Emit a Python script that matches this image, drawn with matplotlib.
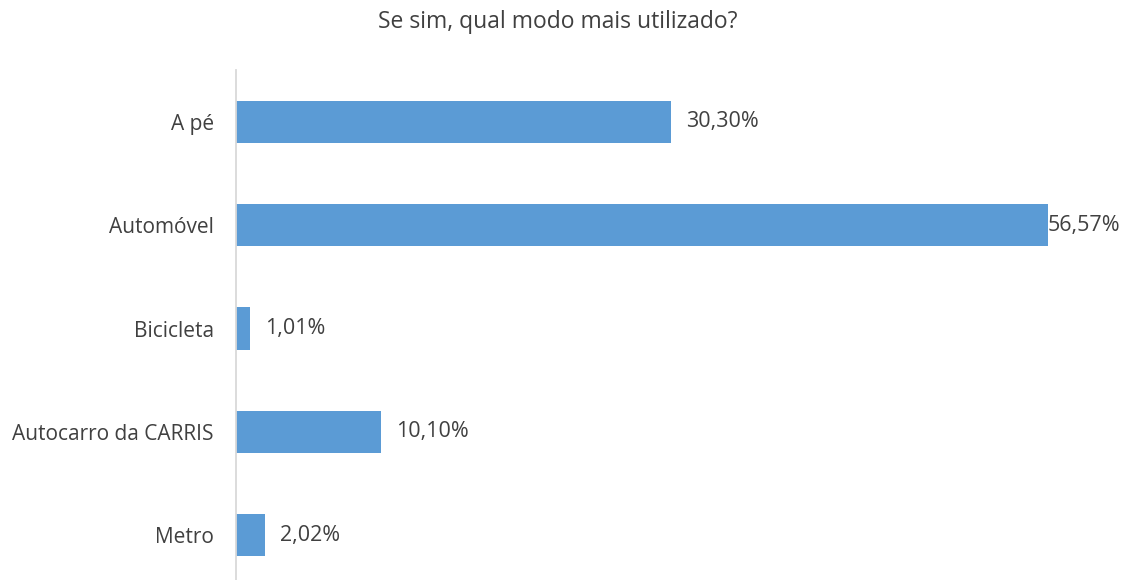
import matplotlib
matplotlib.use("Agg")
import matplotlib.pyplot as plt

categories = ["A pé", "Automóvel", "Bicicleta", "Autocarro da CARRIS", "Metro"]
values = [30.30, 56.57, 1.01, 10.10, 2.02]
labels = ["30,30%", "56,57%", "1,01%", "10,10%", "2,02%"]
title = "Se sim, qual modo mais utilizado?"

plt.rcParams['font.family'] = ['Open Sans', 'DejaVu Sans']
W, H = 1122, 580
fig = plt.figure(figsize=(W/100, H/100), dpi=100)
left, right, top, bottom = 236, 1048, 70, 587
ax = fig.add_axes([left/W, 1 - bottom/H, (right-left)/W, (bottom-top)/H])
ax.set_facecolor("none")

pos = list(range(len(categories)))
ax.barh(pos, values, height=0.41, color="#5B9BD5")
xmax = max(values)
ax.set_xlim(0, xmax)
ax.set_ylim(len(categories) - 0.5, -0.5)
ax.set_yticks(pos)
ax.set_yticklabels(categories, fontsize=15, color="#404040")
ax.tick_params(axis='y', length=0, pad=16)
ax.set_xticks([])
for s in ["top", "right", "bottom"]:
    ax.spines[s].set_visible(False)
ax.spines["left"].set_color("#D9D9D9")
ax.spines["left"].set_linewidth(1.3)

px_per_unit = (right - left) / xmax
for p, v, lab in zip(pos, values, labels):
    x = min(v + 15 / px_per_unit, xmax)
    ax.text(x, p, lab, va="center", ha="left", fontsize=15.5, color="#404040", clip_on=False)

fig.text(558/W, 1 - 22/H, title, ha="center", va="center", fontsize=16.5, color="#404040")
fig.savefig("out.png", dpi=100)
